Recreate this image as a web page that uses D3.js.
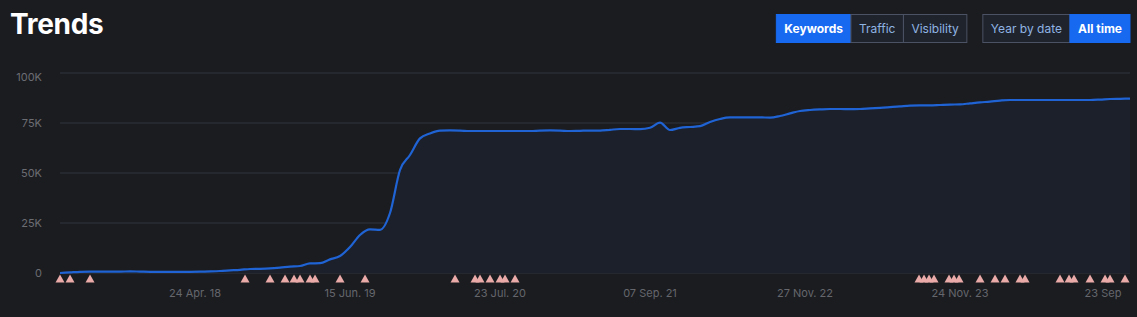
<!DOCTYPE html>
<html>
<head>
<meta charset="utf-8">
<script src="https://cdn.jsdelivr.net/npm/d3@7"></script>
<style>
  html, body { margin: 0; padding: 0; background: #1b1c20; overflow: hidden; }
  svg { display: block; font-family: Inter, "Liberation Sans", Arial, sans-serif; }
</style>
</head>
<body>
<div id="chart"></div>
<script>
// keyword count, one value per step on the category axis
const keywords = [
  0, 300, 600, 700, 700, 700, 700, 800, 700, 600,
  600, 600, 600, 600, 650, 800, 1000, 1300, 1600, 2000,
  2100, 2300, 2700, 3200, 3500, 4800, 4900, 6800, 8500, 13000,
  19000, 21800, 21600, 30000, 51500, 59000, 67300, 69800, 71200, 71300,
  71200, 71000, 71000, 71000, 71000, 71000, 71000, 71000, 71200, 71300,
  71200, 71000, 71100, 71200, 71200, 71600, 72000, 72000, 71900, 72600,
  75200, 71500, 72600, 73000, 73400, 75500, 77000, 77800, 77800, 77800,
  77800, 77700, 78500, 79800, 81000, 81500, 81800, 82000, 82000, 81900,
  82000, 82300, 82600, 82900, 83300, 83700, 83800, 83800, 84000, 84200,
  84300, 84800, 85300, 85700, 86200, 86500, 86500, 86500, 86500, 86500,
  86500, 86500, 86500, 86500, 86700, 87000, 87100, 87200
];
const xTickLabels = ['24 Apr. 18', '15 Jun. 19', '23 Jul. 20', '07 Sep. 21', '27 Nov. 22', '24 Nov. 23', '23 Sep'];
const xTickIndex = [13.5, 29, 44, 59, 74.5, 90, 104.3];
const yTicks = [0, 25000, 50000, 75000, 100000];
const yTickLabels = ['0', '25K', '50K', '75K', '100K'];
// algorithm update markers (position on the category axis)
const events = [
  0, 1, 3, 18.5, 21, 22.5, 23.4, 24, 25, 25.5, 28, 30.5,
  39.5, 41.5, 42, 43, 44, 44.5, 45.5,
  85.9, 86.4, 86.9, 87.4, 88.9, 89.4, 89.9, 92, 93.5, 94.5, 96, 96.5,
  100, 100.9, 101.4, 103, 104.5, 105, 106.5
];
const metricTabs = ['Keywords', 'Traffic', 'Visibility'];
const rangeTabs = ['Year by date', 'All time'];
const activeMetric = 'Keywords';
const activeRange = 'All time';

const width = 1137, height = 317;
const margin = { top: 73, right: 7, bottom: 44, left: 60 };

const svg = d3.select('#chart').append('svg')
  .attr('width', width)
  .attr('height', height);

svg.append('rect').attr('width', width).attr('height', height).attr('fill', '#1b1c20');

// title
svg.append('text')
  .attr('x', 10).attr('y', 34)
  .attr('fill', '#ffffff')
  .style('font-size', '28px')
  .style('font-weight', 700)
  .style('letter-spacing', '-0.3px')
  .text('Trends');

// button groups, laid out right to left
function buttonGroup(labels, active, right) {
  const g = svg.append('g');
  const items = labels.map(l => {
    const t = g.append('text')
      .style('font-size', '12px')
      .style('font-weight', l === active ? 700 : 400)
      .text(l);
    return { label: l, node: t, w: t.node().getComputedTextLength() + 16 };
  });
  const total = d3.sum(items, d => d.w);
  let x = right - total;
  items.forEach(d => {
    const on = d.label === active;
    g.insert('rect', 'text')
      .attr('x', x + 0.5).attr('y', 14.5)
      .attr('width', d.w).attr('height', 28)
      .attr('fill', on ? '#1769f0' : '#1f232b')
      .attr('stroke', on ? '#1769f0' : '#4b5263')
      .attr('stroke-width', 1);
    d.node
      .attr('x', x + d.w / 2 + 0.5).attr('y', 33)
      .attr('text-anchor', 'middle')
      .attr('fill', on ? '#ffffff' : '#8fb4e3');
    x += d.w;
  });
  return right - total;
}
const leftOfRange = buttonGroup(rangeTabs, activeRange, 1129.5);
buttonGroup(metricTabs, activeMetric, leftOfRange - 16);

const x = d3.scaleLinear()
  .domain([0, keywords.length - 1])
  .range([margin.left, width - margin.right]);
const y = d3.scaleLinear()
  .domain([0, 100000])
  .range([height - margin.bottom, margin.top]);

// grid
svg.append('g')
  .selectAll('line')
  .data(yTicks)
  .join('line')
  .attr('x1', x.range()[0]).attr('x2', x.range()[1])
  .attr('y1', d => y(d)).attr('y2', d => y(d))
  .attr('stroke', '#2b2d34')
  .attr('stroke-width', 1.5);

// y labels
svg.append('g')
  .selectAll('text')
  .data(yTicks)
  .join('text')
  .attr('x', 42)
  .attr('y', d => y(d))
  .attr('dy', (d, i) => i === yTicks.length - 1 ? '0.75em' : '0.35em')
  .attr('text-anchor', 'end')
  .attr('fill', '#6b6d73')
  .style('font-size', '11px')
  .text((d, i) => yTickLabels[i]);

// x labels
svg.append('g')
  .selectAll('text')
  .data(xTickIndex)
  .join('text')
  .attr('x', d => x(d))
  .attr('y', 297)
  .attr('text-anchor', 'middle')
  .attr('fill', '#65676d')
  .style('font-size', '11px')
  .text((d, i) => xTickLabels[i]);

const area = d3.area()
  .curve(d3.curveMonotoneX)
  .x((d, i) => x(i))
  .y0(y(0))
  .y1(d => y(d));

const line = d3.line()
  .curve(d3.curveMonotoneX)
  .x((d, i) => x(i))
  .y(d => y(d));

svg.append('path')
  .datum(keywords)
  .attr('d', area)
  .attr('fill', '#1b202b');

svg.append('path')
  .datum(keywords)
  .attr('d', line)
  .attr('fill', 'none')
  .attr('stroke', '#1f63d4')
  .attr('stroke-width', 2.2)
  .attr('stroke-linejoin', 'round');

// event markers
svg.append('g')
  .selectAll('path')
  .data(events)
  .join('path')
  .attr('d', d => {
    const cx = x(d), top = y(0) + 1.5;
    return `M${cx},${top}L${cx + 4.5},${top + 8}L${cx - 4.5},${top + 8}Z`;
  })
  .attr('fill', '#e9aaa8');
</script>
</body>
</html>
